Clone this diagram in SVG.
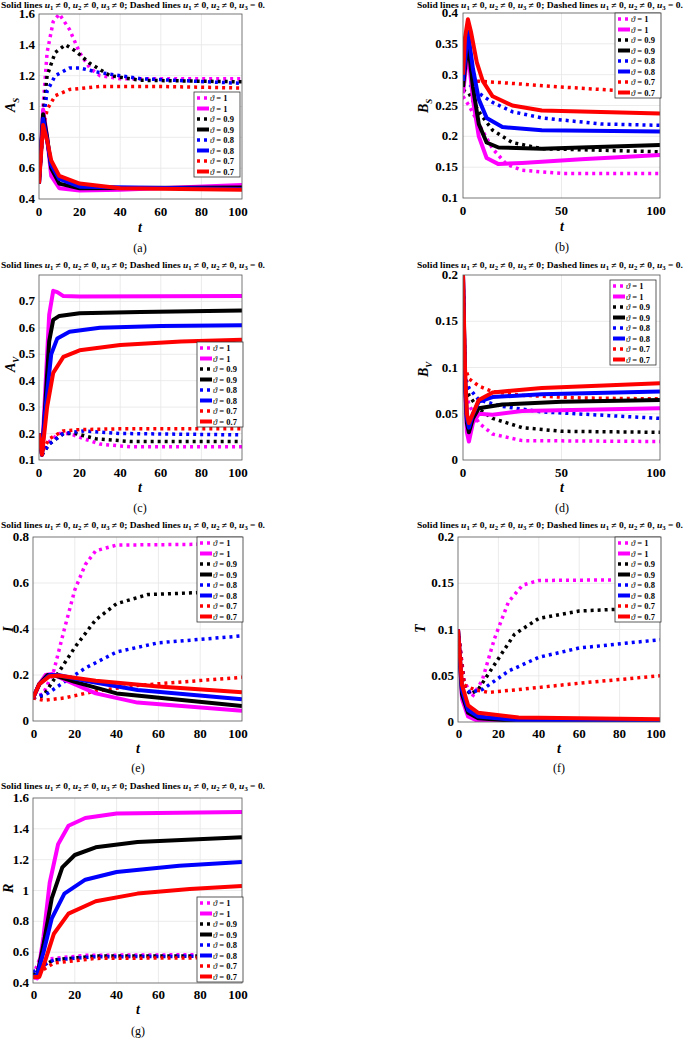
<svg xmlns="http://www.w3.org/2000/svg" width="685" height="1039" viewBox="0 0 685 1039" font-family="'Liberation Serif', 'Times New Roman', serif">
<style>
text{font-family:'Liberation Serif','Times New Roman',serif;fill:#000}
.tk{font-size:13px;font-weight:bold}
.tr{text-anchor:end}
.tc{text-anchor:middle}
.ttl{font-size:8.5px;font-weight:bold}
.lab{font-size:14px;font-weight:bold;font-style:italic}
.cap{font-size:12px;text-anchor:middle}
.box{fill:none;stroke:#555;stroke-width:0.8}
.grid{stroke:#e6e6e6;stroke-width:0.8}
polyline{fill:none;stroke-linejoin:round}
.d{stroke-dasharray:3 4;stroke-width:3.5}
.s{stroke-width:4}
.m{stroke:#ff00ff}.k{stroke:#000}.b{stroke:#0000ff}.r{stroke:#ff0000}
.lg text{font-size:8.5px;font-weight:bold}
</style>
<defs>
<g id="legend" class="lg">
<rect x="0" y="0" width="46" height="85" fill="#fff" stroke="#333" stroke-width="0.8"/>
<line x1="3" y1="6" x2="15" y2="6" class="m d"/><text x="16" y="9"><tspan font-style="italic" font-weight="normal">ϑ</tspan> = 1</text>
<line x1="3" y1="16.5" x2="15" y2="16.5" class="m s"/><text x="16" y="19.5"><tspan font-style="italic" font-weight="normal">ϑ</tspan> = 1</text>
<line x1="3" y1="27" x2="15" y2="27" class="k d"/><text x="16" y="30"><tspan font-style="italic" font-weight="normal">ϑ</tspan> = 0.9</text>
<line x1="3" y1="37.5" x2="15" y2="37.5" class="k s"/><text x="16" y="40.5"><tspan font-style="italic" font-weight="normal">ϑ</tspan> = 0.9</text>
<line x1="3" y1="48" x2="15" y2="48" class="b d"/><text x="16" y="51"><tspan font-style="italic" font-weight="normal">ϑ</tspan> = 0.8</text>
<line x1="3" y1="58.5" x2="15" y2="58.5" class="b s"/><text x="16" y="61.5"><tspan font-style="italic" font-weight="normal">ϑ</tspan> = 0.8</text>
<line x1="3" y1="69" x2="15" y2="69" class="r d"/><text x="16" y="72"><tspan font-style="italic" font-weight="normal">ϑ</tspan> = 0.7</text>
<line x1="3" y1="79.5" x2="15" y2="79.5" class="r s"/><text x="16" y="82.5"><tspan font-style="italic" font-weight="normal">ϑ</tspan> = 0.7</text>
</g>
<clipPath id="ca"><rect x="39" y="14" width="203" height="185"/></clipPath>
<clipPath id="cb"><rect x="463" y="13" width="197" height="185"/></clipPath>
<clipPath id="cc"><rect x="39" y="275" width="203" height="185"/></clipPath>
<clipPath id="cd"><rect x="463" y="275" width="197" height="185"/></clipPath>
<clipPath id="ce"><rect x="33" y="537" width="209" height="184"/></clipPath>
<clipPath id="cf"><rect x="458" y="537" width="202" height="185"/></clipPath>
<clipPath id="cg"><rect x="33" y="798" width="209" height="185"/></clipPath>
</defs>

<!-- Panel a -->
<g id="panel-a">
<text class="ttl" x="1" y="8" textLength="264" lengthAdjust="spacingAndGlyphs">Solid lines <tspan font-style="italic">u</tspan><tspan font-size="6" dy="2">1</tspan><tspan dy="-2"> ≠ 0, </tspan><tspan font-style="italic">u</tspan><tspan font-size="6" dy="2">2</tspan><tspan dy="-2"> ≠ 0, </tspan><tspan font-style="italic">u</tspan><tspan font-size="6" dy="2">3</tspan><tspan dy="-2"> ≠ 0; Dashed lines </tspan><tspan font-style="italic">u</tspan><tspan font-size="6" dy="2">1</tspan><tspan dy="-2"> ≠ 0, </tspan><tspan font-style="italic">u</tspan><tspan font-size="6" dy="2">2</tspan><tspan dy="-2"> ≠ 0, </tspan><tspan font-style="italic">u</tspan><tspan font-size="6" dy="2">3</tspan><tspan dy="-2"> = 0.</tspan></text>
<rect x="39" y="14" width="203" height="185" fill="#fff"/>
<g class="grid"><line x1="79.6" y1="14" x2="79.6" y2="199"/><line x1="120.2" y1="14" x2="120.2" y2="199"/><line x1="160.8" y1="14" x2="160.8" y2="199"/><line x1="201.4" y1="14" x2="201.4" y2="199"/>
<line x1="39" y1="168.2" x2="242" y2="168.2"/><line x1="39" y1="137.3" x2="242" y2="137.3"/><line x1="39" y1="106.5" x2="242" y2="106.5"/><line x1="39" y1="75.7" x2="242" y2="75.7"/><line x1="39" y1="44.8" x2="242" y2="44.8"/></g>
<g clip-path="url(#ca)">
<polyline class="m d" points="39,183.6 43.1,106.5 47.1,52.5 53.2,21.7 59.3,14 69.5,29.4 79.6,52.5 89.8,68 99.9,75.7 120.2,78.7 242,78.7"/>
<polyline class="k d" points="39,183.6 43.1,114.2 47.1,75.7 55.2,52.5 65.4,44.8 75.5,51 89.8,63.3 110.1,75.7 140.5,80.3 242,81.8"/>
<polyline class="b d" points="39,183.6 43.1,121.9 47.1,91.1 55.2,75.7 69.5,68 79.6,68 99.9,72.6 140.5,78.7 242,83.4"/>
<polyline class="r d" points="39,183.6 43.1,129.6 47.1,109.6 55.2,95.7 69.5,89.5 99.9,86.5 160.8,86.5 242,88"/>
<polyline class="m s" points="39,183.6 43.1,109.6 47.1,137.3 51.2,175.9 59.3,188.2 79.6,190.5 120.2,189.8 242,185.1"/>
<polyline class="k s" points="39,183.6 43.1,114.2 47.1,137.3 51.2,168.2 59.3,183.6 79.6,188.2 242,187.5"/>
<polyline class="b s" points="39,183.6 43.1,118.8 47.1,140.4 51.2,165.1 59.3,179 79.6,186.7 242,189"/>
<polyline class="r s" points="39,183.6 43.1,125 47.1,140.4 51.2,160.5 59.3,175.9 79.6,183.6 120.2,188.2 242,189.8"/>
</g>
<rect class="box" x="39" y="14" width="203" height="185"/>
<g class="tk tr"><text x="35" y="203">0.4</text><text x="35" y="172">0.6</text><text x="35" y="141">0.8</text><text x="35" y="110">1</text><text x="35" y="80">1.2</text><text x="35" y="49">1.4</text><text x="35" y="18">1.6</text></g>
<g class="tk tc"><text x="39" y="216">0</text><text x="79.6" y="216">20</text><text x="120.2" y="216">40</text><text x="160.8" y="216">60</text><text x="201.4" y="216">80</text><text x="238" y="216">100</text></g>
<text class="lab tc" x="140" y="232">t</text>
<text class="lab" transform="translate(15,112) rotate(-90)">A<tspan font-size="9" dy="4">S</tspan></text>
<use href="#legend" transform="translate(194,92)"/>
<text class="cap" x="140" y="252">(a)</text>
</g>

<!-- Panel b -->
<g id="panel-b">
<text class="ttl" x="417" y="8" textLength="266" lengthAdjust="spacingAndGlyphs">Solid lines <tspan font-style="italic">u</tspan><tspan font-size="6" dy="2">1</tspan><tspan dy="-2"> ≠ 0, </tspan><tspan font-style="italic">u</tspan><tspan font-size="6" dy="2">2</tspan><tspan dy="-2"> ≠ 0, </tspan><tspan font-style="italic">u</tspan><tspan font-size="6" dy="2">3</tspan><tspan dy="-2"> ≠ 0; Dashed lines </tspan><tspan font-style="italic">u</tspan><tspan font-size="6" dy="2">1</tspan><tspan dy="-2"> ≠ 0, </tspan><tspan font-style="italic">u</tspan><tspan font-size="6" dy="2">2</tspan><tspan dy="-2"> ≠ 0, </tspan><tspan font-style="italic">u</tspan><tspan font-size="6" dy="2">3</tspan><tspan dy="-2"> = 0.</tspan></text>
<rect x="463" y="13" width="197" height="185" fill="#fff"/>
<g class="grid"><line x1="561.5" y1="13" x2="561.5" y2="198"/><line x1="463" y1="167.2" x2="660" y2="167.2"/><line x1="463" y1="136.3" x2="660" y2="136.3"/><line x1="463" y1="105.5" x2="660" y2="105.5"/><line x1="463" y1="74.7" x2="660" y2="74.7"/><line x1="463" y1="43.8" x2="660" y2="43.8"/></g>
<g clip-path="url(#cb)">
<polyline class="m d" points="463,96.3 468.9,105.5 478.8,124 492.6,148.7 506.3,164.1 522.1,170.3 561.5,173.4 660,173.4"/>
<polyline class="k d" points="463,90.1 468.9,93.2 478.8,111.7 492.6,130.2 512.3,142.5 541.8,148.7 660,151.8"/>
<polyline class="b d" points="463,83.9 468.9,83.9 478.8,93.2 492.6,102.4 512.3,111.7 541.8,117.9 600.9,124 660,125.3"/>
<polyline class="r d" points="463,80.9 472.9,80.9 502.4,82.7 561.5,87 660,93.2"/>
<polyline class="m s" points="463,93.2 467.9,50 472.9,99.4 478.8,136.4 486.6,158 498.5,164.1 522.1,162.9 581.2,159.2 660,154.9"/>
<polyline class="k s" points="463,87 467.9,40.8 472.9,87 478.8,124 486.6,142.5 498.5,147.5 541.8,148.7 660,145"/>
<polyline class="b s" points="463,80.9 467.9,31.5 472.9,68.5 478.8,99.4 486.6,117.9 502.4,127.1 541.8,130.2 660,131.4"/>
<polyline class="r s" points="463,74.7 465,37.7 467.9,19.2 470.9,31.5 476.8,62.4 482.7,80.9 492.6,96.3 512.3,105.5 541.8,110.5 660,113.5"/>
</g>
<rect class="box" x="463" y="13" width="197" height="185"/>
<g class="tk tr"><text x="458" y="202">0.1</text><text x="458" y="171">0.15</text><text x="458" y="140">0.2</text><text x="458" y="110">0.25</text><text x="458" y="79">0.3</text><text x="458" y="48">0.35</text><text x="458" y="17">0.4</text></g>
<g class="tk tc"><text x="463" y="215">0</text><text x="561.5" y="215">50</text><text x="656" y="215">100</text></g>
<text class="lab tc" x="562" y="231">t</text>
<text class="lab" transform="translate(428,113) rotate(-90)">B<tspan font-size="9" dy="4">S</tspan></text>
<use href="#legend" transform="translate(615,13)"/>
<text class="cap" x="562" y="251">(b)</text>
</g>

<!-- Panel c -->
<g id="panel-c">
<text class="ttl" x="1" y="268" textLength="264" lengthAdjust="spacingAndGlyphs">Solid lines <tspan font-style="italic">u</tspan><tspan font-size="6" dy="2">1</tspan><tspan dy="-2"> ≠ 0, </tspan><tspan font-style="italic">u</tspan><tspan font-size="6" dy="2">2</tspan><tspan dy="-2"> ≠ 0, </tspan><tspan font-style="italic">u</tspan><tspan font-size="6" dy="2">3</tspan><tspan dy="-2"> ≠ 0; Dashed lines </tspan><tspan font-style="italic">u</tspan><tspan font-size="6" dy="2">1</tspan><tspan dy="-2"> ≠ 0, </tspan><tspan font-style="italic">u</tspan><tspan font-size="6" dy="2">2</tspan><tspan dy="-2"> ≠ 0, </tspan><tspan font-style="italic">u</tspan><tspan font-size="6" dy="2">3</tspan><tspan dy="-2"> = 0.</tspan></text>
<rect x="39" y="275" width="203" height="185" fill="#fff"/>
<g class="grid"><line x1="79.6" y1="275" x2="79.6" y2="460"/><line x1="120.2" y1="275" x2="120.2" y2="460"/><line x1="160.8" y1="275" x2="160.8" y2="460"/><line x1="201.4" y1="275" x2="201.4" y2="460"/>
<line x1="39" y1="433.6" x2="242" y2="433.6"/><line x1="39" y1="407.1" x2="242" y2="407.1"/><line x1="39" y1="380.7" x2="242" y2="380.7"/><line x1="39" y1="354.3" x2="242" y2="354.3"/><line x1="39" y1="327.9" x2="242" y2="327.9"/><line x1="39" y1="301.4" x2="242" y2="301.4"/></g>
<g clip-path="url(#cc)">
<polyline class="m d" points="39,433.5 42,454.7 49.2,441.5 59.3,433.5 69.5,433.5 83.7,438.8 99.9,444.1 130.4,446.8 242,446.8"/>
<polyline class="k d" points="39,433.5 42,454.7 49.2,444.1 63.4,433.5 75.5,433.5 95.8,438.8 130.4,441.5 242,441.5"/>
<polyline class="b d" points="39,433.5 42,454.7 49.2,444.1 63.4,433.5 83.7,430.9 120.2,433.5 242,434.9"/>
<polyline class="r d" points="39,433.5 42,452 49.2,438.8 63.4,430.9 79.6,429.6 120.2,428.8 242,428.8"/>
<polyline class="m s" points="39,433.5 42,454.7 45.1,393.9 49.2,314.6 53.2,290.8 57.3,292.1 63.4,296.1 79.6,296.6 242,296.1"/>
<polyline class="k s" points="39,433.5 42,454.7 45.1,407.1 49.2,341.1 53.2,319.9 59.3,315.9 79.6,313.3 140.5,312 242,310.6"/>
<polyline class="b s" points="39,433.5 42,454.7 45.1,412.4 51.2,354.3 57.3,338.4 69.5,331.8 99.9,327.8 160.8,326 242,325.2"/>
<polyline class="r s" points="39,433.5 42,454.7 47.1,407.1 53.2,372.8 63.4,356.9 79.6,350.3 120.2,345 181.1,341.6 242,339.7"/>
</g>
<rect class="box" x="39" y="275" width="203" height="185"/>
<g class="tk tr"><text x="35" y="464">0.1</text><text x="35" y="438">0.2</text><text x="35" y="411">0.3</text><text x="35" y="385">0.4</text><text x="35" y="358">0.5</text><text x="35" y="332">0.6</text><text x="35" y="305">0.7</text></g>
<g class="tk tc"><text x="39" y="477">0</text><text x="79.6" y="477">20</text><text x="120.2" y="477">40</text><text x="160.8" y="477">60</text><text x="201.4" y="477">80</text><text x="238" y="477">100</text></g>
<text class="lab tc" x="140" y="492">t</text>
<text class="lab" transform="translate(15,372) rotate(-90)">A<tspan font-size="9" dy="4">V</tspan></text>
<use href="#legend" transform="translate(197,342)"/>
<text class="cap" x="140" y="512">(c)</text>
</g>

<!-- Panel d -->
<g id="panel-d">
<text class="ttl" x="417" y="268" textLength="266" lengthAdjust="spacingAndGlyphs">Solid lines <tspan font-style="italic">u</tspan><tspan font-size="6" dy="2">1</tspan><tspan dy="-2"> ≠ 0, </tspan><tspan font-style="italic">u</tspan><tspan font-size="6" dy="2">2</tspan><tspan dy="-2"> ≠ 0, </tspan><tspan font-style="italic">u</tspan><tspan font-size="6" dy="2">3</tspan><tspan dy="-2"> ≠ 0; Dashed lines </tspan><tspan font-style="italic">u</tspan><tspan font-size="6" dy="2">1</tspan><tspan dy="-2"> ≠ 0, </tspan><tspan font-style="italic">u</tspan><tspan font-size="6" dy="2">2</tspan><tspan dy="-2"> ≠ 0, </tspan><tspan font-style="italic">u</tspan><tspan font-size="6" dy="2">3</tspan><tspan dy="-2"> = 0.</tspan></text>
<rect x="463" y="275" width="197" height="185" fill="#fff"/>
<g class="grid"><line x1="561.5" y1="275" x2="561.5" y2="460"/><line x1="463" y1="413.8" x2="660" y2="413.8"/><line x1="463" y1="367.5" x2="660" y2="367.5"/><line x1="463" y1="321.3" x2="660" y2="321.3"/></g>
<g clip-path="url(#cd)">
<polyline class="m d" points="463,275 465,386 468.9,404.5 478.8,423 492.6,434.1 522.1,440.6 660,441.5"/>
<polyline class="k d" points="463,275 465,381.4 468.9,395.3 478.8,409.1 492.6,418.4 522.1,427.6 561.5,431.3 660,432.3"/>
<polyline class="b d" points="463,275 465,376.8 468.9,387.9 478.8,399.9 502.4,406.4 541.8,411.9 660,418.4"/>
<polyline class="r d" points="463,275 465,367.5 468.9,378.6 478.8,386 492.6,391.6 522.1,395.3 581.2,398 660,398.9"/>
<polyline class="m s" points="463,275 465,386 466.9,432.3 468.9,441.5 472.9,423 478.8,413.8 492.6,414.7 522.1,411 660,408.2"/>
<polyline class="k s" points="463,275 465,381.4 466.9,423 468.9,432.3 472.9,418.4 478.8,408.2 502.4,404.5 561.5,401.7 660,399.9"/>
<polyline class="b s" points="463,275 465,376.8 466.9,418.4 468.9,427.6 472.9,413.8 478.8,401.7 492.6,397.1 541.8,394.3 660,391.6"/>
<polyline class="r s" points="463,275 465,367.5 466.9,413.8 468.9,423 472.9,413.8 478.8,399.9 492.6,392.5 541.8,387.9 660,383.2"/>
</g>
<rect class="box" x="463" y="275" width="197" height="185"/>
<g class="tk tr"><text x="458" y="464">0</text><text x="458" y="418">0.05</text><text x="458" y="372">0.1</text><text x="458" y="325">0.15</text><text x="458" y="279">0.2</text></g>
<g class="tk tc"><text x="463" y="477">0</text><text x="561.5" y="477">50</text><text x="656" y="477">100</text></g>
<text class="lab tc" x="562" y="492">t</text>
<text class="lab" transform="translate(428,377) rotate(-90)">B<tspan font-size="9" dy="4">V</tspan></text>
<use href="#legend" transform="translate(610,280)"/>
<text class="cap" x="562" y="512">(d)</text>
</g>

<!-- Panel e -->
<g id="panel-e">
<text class="ttl" x="1" y="528" textLength="264" lengthAdjust="spacingAndGlyphs">Solid lines <tspan font-style="italic">u</tspan><tspan font-size="6" dy="2">1</tspan><tspan dy="-2"> ≠ 0, </tspan><tspan font-style="italic">u</tspan><tspan font-size="6" dy="2">2</tspan><tspan dy="-2"> ≠ 0, </tspan><tspan font-style="italic">u</tspan><tspan font-size="6" dy="2">3</tspan><tspan dy="-2"> ≠ 0; Dashed lines </tspan><tspan font-style="italic">u</tspan><tspan font-size="6" dy="2">1</tspan><tspan dy="-2"> ≠ 0, </tspan><tspan font-style="italic">u</tspan><tspan font-size="6" dy="2">2</tspan><tspan dy="-2"> ≠ 0, </tspan><tspan font-style="italic">u</tspan><tspan font-size="6" dy="2">3</tspan><tspan dy="-2"> = 0.</tspan></text>
<rect x="33" y="537" width="209" height="184" fill="#fff"/>
<g class="grid"><line x1="74.8" y1="537" x2="74.8" y2="721"/><line x1="116.6" y1="537" x2="116.6" y2="721"/><line x1="158.4" y1="537" x2="158.4" y2="721"/><line x1="200.2" y1="537" x2="200.2" y2="721"/>
<line x1="33" y1="675" x2="242" y2="675"/><line x1="33" y1="629" x2="242" y2="629"/><line x1="33" y1="583" x2="242" y2="583"/></g>
<g clip-path="url(#ce)">
<polyline class="m d" points="33,698 43.5,693.4 53.9,670.4 64.4,629 74.8,589.9 85.3,564.6 95.7,550.8 116.6,545.1 242,543.9"/>
<polyline class="k d" points="33,698 43.5,695.7 53.9,679.6 74.8,647.4 95.7,619.8 116.6,603.7 148,594.5 242,591"/>
<polyline class="b d" points="33,698 47.6,693.4 64.4,681.9 85.3,668.1 116.6,652 158.4,642.8 242,635.9"/>
<polyline class="r d" points="33,698 43.5,700.3 64.4,698 95.7,691.1 137.5,685.4 242,677.3"/>
<polyline class="m s" points="33,698 39.3,684.2 45.5,675 51.8,673.9 64.4,679.6 95.7,693.4 137.5,702.6 242,710.7"/>
<polyline class="k s" points="33,698 39.3,684.2 47.6,675 53.9,675 74.8,681.9 116.6,693.4 242,706"/>
<polyline class="b s" points="33,698 39.3,684.2 49.7,675 58.1,675 85.3,680.8 137.5,690 242,699.2"/>
<polyline class="r s" points="33,698 39.3,684.2 49.7,676.2 58.1,675.5 95.7,680.8 158.4,686.5 242,692.3"/>
</g>
<rect class="box" x="33" y="537" width="209" height="184"/>
<g class="tk tr"><text x="29" y="725">0</text><text x="29" y="679">0.2</text><text x="29" y="633">0.4</text><text x="29" y="587">0.6</text><text x="29" y="541">0.8</text></g>
<g class="tk tc"><text x="34" y="738">0</text><text x="74.8" y="738">20</text><text x="116.6" y="738">40</text><text x="158.4" y="738">60</text><text x="200.2" y="738">80</text><text x="238" y="738">100</text></g>
<text class="lab tc" x="138" y="753">t</text>
<text class="lab" transform="translate(13,632) rotate(-90)">I</text>
<use href="#legend" transform="translate(197,537)"/>
<text class="cap" x="138" y="772">(e)</text>
</g>

<!-- Panel f -->
<g id="panel-f">
<text class="ttl" x="417" y="528" textLength="266" lengthAdjust="spacingAndGlyphs">Solid lines <tspan font-style="italic">u</tspan><tspan font-size="6" dy="2">1</tspan><tspan dy="-2"> ≠ 0, </tspan><tspan font-style="italic">u</tspan><tspan font-size="6" dy="2">2</tspan><tspan dy="-2"> ≠ 0, </tspan><tspan font-style="italic">u</tspan><tspan font-size="6" dy="2">3</tspan><tspan dy="-2"> ≠ 0; Dashed lines </tspan><tspan font-style="italic">u</tspan><tspan font-size="6" dy="2">1</tspan><tspan dy="-2"> ≠ 0, </tspan><tspan font-style="italic">u</tspan><tspan font-size="6" dy="2">2</tspan><tspan dy="-2"> ≠ 0, </tspan><tspan font-style="italic">u</tspan><tspan font-size="6" dy="2">3</tspan><tspan dy="-2"> = 0.</tspan></text>
<rect x="458" y="537" width="202" height="185" fill="#fff"/>
<g class="grid"><line x1="498.4" y1="537" x2="498.4" y2="722"/><line x1="538.8" y1="537" x2="538.8" y2="722"/><line x1="579.2" y1="537" x2="579.2" y2="722"/><line x1="619.6" y1="537" x2="619.6" y2="722"/>
<line x1="458" y1="675.8" x2="660" y2="675.8"/><line x1="458" y1="629.5" x2="660" y2="629.5"/><line x1="458" y1="583.3" x2="660" y2="583.3"/></g>
<g clip-path="url(#cf)">
<polyline class="m d" points="458,629.5 464.1,680.4 472.1,697 482.2,680.4 494.4,638.8 508.5,601.8 522.6,585.1 538.8,580.5 660,579.5"/>
<polyline class="k d" points="458,629.5 464.1,685 470.1,694.3 478.2,689.6 494.4,664.7 514.6,634.1 538.8,618.4 579.2,611 660,607.3"/>
<polyline class="b d" points="458,629.5 464.1,686.9 470.1,692.4 482.2,689.6 508.5,671.1 538.8,657.3 579.2,648 660,639.7"/>
<polyline class="r d" points="458,629.5 464.1,685 474.2,689.6 488.3,692.4 518.6,689.6 579.2,683.2 660,675.8"/>
<polyline class="m s" points="458,629.5 462,698.9 468.1,716.5 478.2,721.1 660,722"/>
<polyline class="k s" points="458,629.5 462,694.3 468.1,712.8 478.2,718.3 518.6,721.1 660,722"/>
<polyline class="b s" points="458,629.5 462,689.6 468.1,710 478.2,716.5 518.6,720.2 660,721.1"/>
<polyline class="r s" points="458,629.5 462,685 468.1,705.4 478.2,712.8 518.6,717.4 660,719.2"/>
</g>
<rect class="box" x="458" y="537" width="202" height="185"/>
<g class="tk tr"><text x="454" y="726">0</text><text x="454" y="680">0.05</text><text x="454" y="634">0.1</text><text x="454" y="587">0.15</text><text x="454" y="541">0.2</text></g>
<g class="tk tc"><text x="459" y="738">0</text><text x="498.4" y="738">20</text><text x="538.8" y="738">40</text><text x="579.2" y="738">60</text><text x="619.6" y="738">80</text><text x="656" y="738">100</text></g>
<text class="lab tc" x="559" y="753">t</text>
<text class="lab" transform="translate(425,633) rotate(-90)">T</text>
<use href="#legend" transform="translate(615,537)"/>
<text class="cap" x="559" y="772">(f)</text>
</g>

<!-- Panel g -->
<g id="panel-g">
<text class="ttl" x="1" y="789" textLength="264" lengthAdjust="spacingAndGlyphs">Solid lines <tspan font-style="italic">u</tspan><tspan font-size="6" dy="2">1</tspan><tspan dy="-2"> ≠ 0, </tspan><tspan font-style="italic">u</tspan><tspan font-size="6" dy="2">2</tspan><tspan dy="-2"> ≠ 0, </tspan><tspan font-style="italic">u</tspan><tspan font-size="6" dy="2">3</tspan><tspan dy="-2"> ≠ 0; Dashed lines </tspan><tspan font-style="italic">u</tspan><tspan font-size="6" dy="2">1</tspan><tspan dy="-2"> ≠ 0, </tspan><tspan font-style="italic">u</tspan><tspan font-size="6" dy="2">2</tspan><tspan dy="-2"> ≠ 0, </tspan><tspan font-style="italic">u</tspan><tspan font-size="6" dy="2">3</tspan><tspan dy="-2"> = 0.</tspan></text>
<rect x="33" y="798" width="209" height="185" fill="#fff"/>
<g class="grid"><line x1="74.8" y1="798" x2="74.8" y2="983"/><line x1="116.6" y1="798" x2="116.6" y2="983"/><line x1="158.4" y1="798" x2="158.4" y2="983"/><line x1="200.2" y1="798" x2="200.2" y2="983"/>
<line x1="33" y1="952.2" x2="242" y2="952.2"/><line x1="33" y1="921.3" x2="242" y2="921.3"/><line x1="33" y1="890.5" x2="242" y2="890.5"/><line x1="33" y1="859.7" x2="242" y2="859.7"/><line x1="33" y1="828.8" x2="242" y2="828.8"/></g>
<g clip-path="url(#cg)">
<polyline class="m d" points="33,975.3 39.3,959.9 53.9,958.4 85.3,955.3 242,954.5"/>
<polyline class="k d" points="33,975.3 39.3,967.6 53.9,959.9 95.7,956 242,956"/>
<polyline class="b d" points="33,972.2 39.3,967.6 53.9,959.9 95.7,956.8 242,956"/>
<polyline class="r d" points="33,978.4 39.3,972.2 53.9,963 95.7,958.4 242,957.6"/>
<polyline class="m s" points="33,976.9 37.2,978.4 43.5,936.8 49.7,882.8 58.1,844.2 68.5,825.7 85.3,818 116.6,813.4 242,811.9"/>
<polyline class="k s" points="33,976.9 37.2,975.3 43.5,944.5 51.8,898.2 62.3,867.4 74.8,855 95.7,847.3 137.5,841.9 242,837.3"/>
<polyline class="b s" points="33,976.9 37.2,975.3 43.5,952.2 51.8,918.3 64.4,893.6 85.3,879.7 116.6,872 179.3,865.8 242,862"/>
<polyline class="r s" points="33,976.9 39.3,976.9 45.5,959.9 53.9,933.7 68.5,913.6 95.7,901.3 137.5,893.6 189.8,889 242,885.9"/>
</g>
<rect class="box" x="33" y="798" width="209" height="185"/>
<g class="tk tr"><text x="29" y="987">0.4</text><text x="29" y="956">0.6</text><text x="29" y="925">0.8</text><text x="29" y="895">1</text><text x="29" y="864">1.2</text><text x="29" y="833">1.4</text><text x="29" y="802">1.6</text></g>
<g class="tk tc"><text x="34" y="999">0</text><text x="74.8" y="999">20</text><text x="116.6" y="999">40</text><text x="158.4" y="999">60</text><text x="200.2" y="999">80</text><text x="238" y="999">100</text></g>
<text class="lab tc" x="138" y="1014">t</text>
<text class="lab" transform="translate(13,893) rotate(-90)">R</text>
<use href="#legend" transform="translate(197,897)"/>
<text class="cap" x="138" y="1035">(g)</text>
</g>
</svg>
